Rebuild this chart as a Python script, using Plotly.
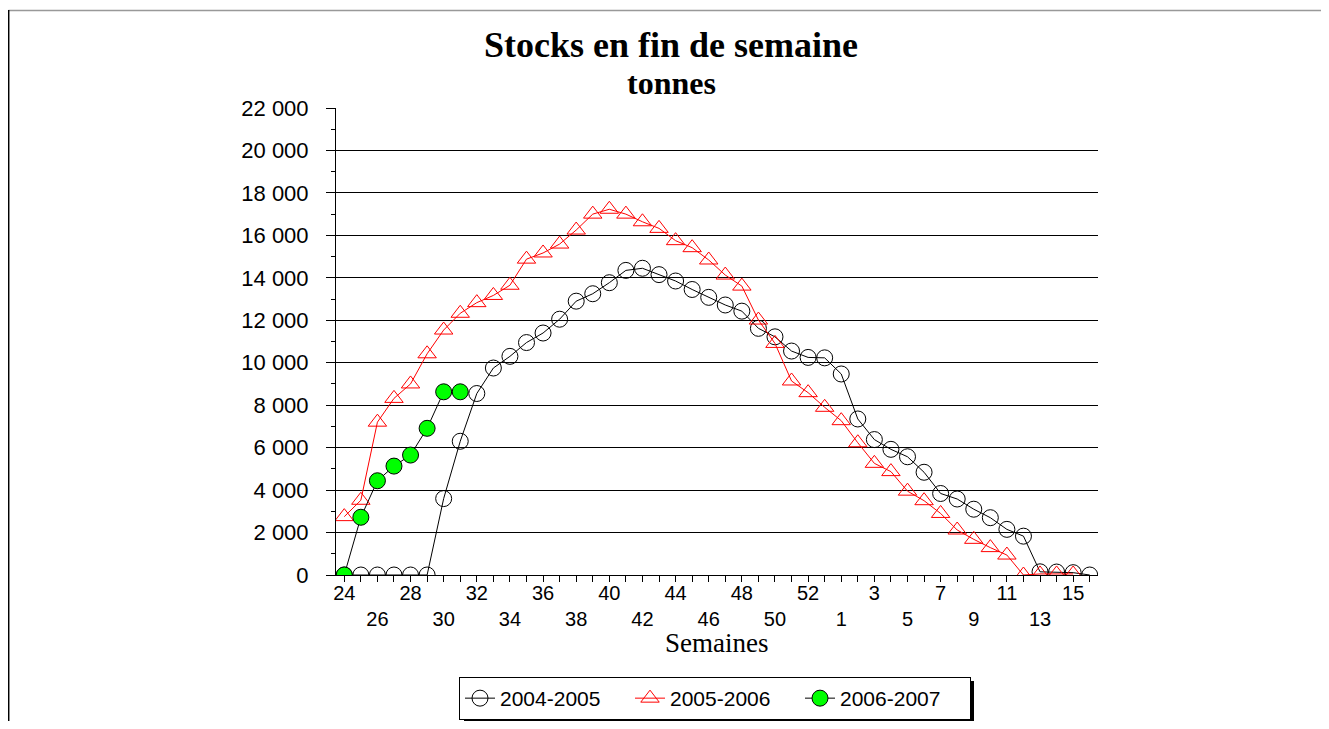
import plotly.graph_objects as go

# ---- data ----
weeks = [str(w) for w in list(range(24, 54)) + list(range(1, 17))]

stock_2004_2005 = [0, 0, 0, 0, 0, 0, 3600, 6300, 8550, 9750, 10300, 10950, 11400, 12050,
                   12900, 13250, 13770, 14350, 14450, 14150, 13850, 13450, 13080, 12720,
                   12430, 11620, 11220, 10550, 10250, 10230,
                   9470, 7350, 6380, 5920, 5570, 4840, 3840, 3580, 3100, 2700, 2150, 1830,
                   150, 140, 110, 0]

stock_2005_2006 = [2750, 3520, 7200, 8320, 9000, 10420, 11540, 12330, 12830, 13170, 13650,
                   14880, 15170, 15590, 16250, 17000, 17230, 17000, 16640, 16330, 15750,
                   15420, 14840, 14130, 13610, 12010, 10910, 9140, 8590, 7900,
                   7270, 6230, 5260, 4870, 3950, 3500, 2900, 2120, 1680, 1290, 940, 0,
                   50, 50, 50, None]

stock_2006_2007 = [0, 2720, 4440, 5130, 5650, 6910, 8630, 8630] + [None] * 38

y_tickvals = list(range(0, 22001, 2000))
y_ticktext = ["0", "2 000", "4 000", "6 000", "8 000", "10 000", "12 000", "14 000",
              "16 000", "18 000", "20 000", "22 000"]

x_labels = []
for i, w in enumerate(weeks):
    if i % 2 == 1:
        x_labels.append("")
    elif (i // 2) % 2 == 0:
        x_labels.append(w)
    else:
        x_labels.append("\u00a0<br>" + w)

# ---- layout geometry (screen pixels; the page adds an 8 px body margin) ----
OFF = 8
W, H = 1329 - 2 * OFF, 729 - 2 * OFF
L, R, T, B = 336 - OFF, 1098 - OFF, 108 - OFF, 575 - OFF
pw, ph = R - L, B - T


def px(x):
    return (x - OFF - L) / pw


def py(y):
    return (B - (y - OFF)) / ph


fig = go.Figure()

fig.add_trace(go.Scatter(
    x=weeks, y=stock_2004_2005, name="2004-2005", mode="lines+markers",
    line=dict(color="black", width=1),
    marker=dict(symbol="circle-open", size=16, color="black", line=dict(width=1)),
))
fig.add_trace(go.Scatter(
    x=weeks, y=stock_2005_2006, name="2005-2006", mode="lines+markers",
    line=dict(color="#ff0000", width=1),
    marker=dict(symbol="triangle-up-open", size=16, color="#ff0000", line=dict(width=1)),
))
fig.add_trace(go.Scatter(
    x=weeks, y=stock_2006_2007, name="2006-2007", mode="lines+markers",
    line=dict(color="black", width=1),
    marker=dict(symbol="circle", size=16, color="#00ff00", line=dict(color="black", width=1)),
))

fig.update_layout(
    width=W, height=H, autosize=False,
    margin=dict(l=L, r=W - R, t=T, b=H - B, pad=0, autoexpand=False),
    paper_bgcolor="white", plot_bgcolor="white",
    font=dict(family="Liberation Sans, Arial", size=21, color="black"),
    showlegend=True,
    legend=dict(
        orientation="h", x=px(715), xanchor="center", y=py(677), yanchor="top",
        bgcolor="white", bordercolor="black", borderwidth=1,
        font=dict(family="Liberation Sans, Arial", size=21, color="black"),
        entrywidth=125, entrywidthmode="pixels",
    ),
    xaxis=dict(
        type="category", categoryorder="array", categoryarray=weeks,
        range=[-0.5, len(weeks) - 0.5],
        tickmode="array", tickvals=weeks, ticktext=x_labels,
        ticks="outside", ticklen=6, tickcolor="black", tickwidth=1,
        showline=True, linecolor="black", linewidth=1,
        showgrid=False, zeroline=False, automargin=False,
        tickfont=dict(size=20), tickangle=0, ticklabelstandoff=-6,
    ),
    yaxis=dict(
        range=[0, 22000],
        tickmode="array", tickvals=y_tickvals, ticktext=y_ticktext,
        ticks="outside", ticklen=9, tickcolor="black", tickwidth=1,
        minor=dict(dtick=1000, ticks="outside", ticklen=4, tickcolor="black", showgrid=False),
        showline=True, linecolor="black", linewidth=1,
        showgrid=True, gridcolor="black", gridwidth=1,
        zeroline=False, ticklabelstandoff=13, automargin=False,
        tickfont=dict(size=22),
    ),
    annotations=[
        dict(text="<b>Stocks en fin de semaine</b>", xref="paper", yref="paper",
             x=px(671), y=py(45), xanchor="center", yanchor="middle", showarrow=False,
             font=dict(family="Liberation Serif, Times New Roman", size=36, color="black")),
        dict(text="<b>tonnes</b>", xref="paper", yref="paper",
             x=px(671), y=py(83), xanchor="center", yanchor="middle", showarrow=False,
             font=dict(family="Liberation Serif, Times New Roman", size=32, color="black")),
        dict(text="Semaines", xref="paper", yref="paper",
             x=px(716), y=py(643), xanchor="center", yanchor="middle", showarrow=False,
             font=dict(family="Liberation Serif, Times New Roman", size=27, color="black")),
    ],
    shapes=[
        dict(type="line", xref="paper", yref="paper", x0=px(8.5), x1=px(1329), y0=py(10.5), y1=py(10.5),
             line=dict(color="#999999", width=1.5)),
        dict(type="line", xref="paper", yref="paper", x0=px(8.7), x1=px(8.7), y0=py(10), y1=py(729),
             line=dict(color="black", width=1.5)),
        dict(type="rect", xref="paper", yref="paper", x0=px(464), x1=px(974), y0=py(681), y1=py(722),
             fillcolor="black", line=dict(width=0), layer="below"),
    ],
)

fig.write_html("out.html")
